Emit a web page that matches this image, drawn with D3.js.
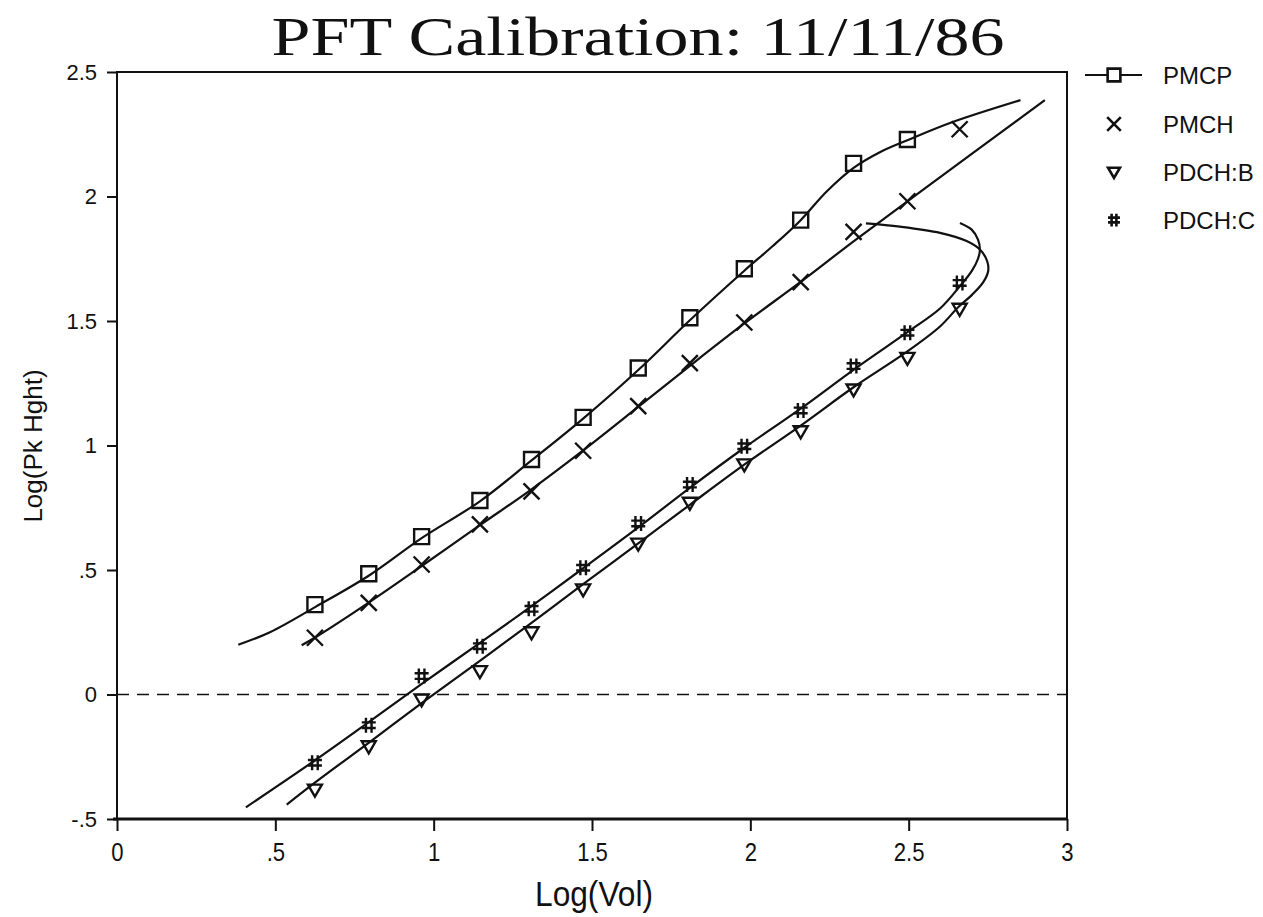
<!DOCTYPE html>
<html><head><meta charset="utf-8">
<script src="https://cdn.jsdelivr.net/npm/d3@7"></script>
<style>body{margin:0;background:#fff}</style>
</head><body><svg id="c" width="1263" height="917"></svg>
<script>
// ---- data ----
const title = "PFT Calibration: 11/11/86";
const xLabel = "Log(Vol)";
const yLabel = "Log(Pk Hght)";
const xTicks = [0, 0.5, 1, 1.5, 2, 2.5, 3];
const xTickLabels = ["0", ".5", "1", "1.5", "2", "2.5", "3"];
const yTicks = [-0.5, 0, 0.5, 1, 1.5, 2, 2.5];
const yTickLabels = ["-.5", "0", ".5", "1", "1.5", "2", "2.5"];
const seriesNames = ["PMCP", "PMCH", "PDCH:B", "PDCH:C"];

const volX  = [0.625, 0.795, 0.962, 1.146, 1.309, 1.472, 1.646, 1.809, 1.981, 2.159, 2.326, 2.496, 2.661];
const pmcp  = [0.361, 0.485, 0.634, 0.779, 0.944, 1.113, 1.311, 1.513, 1.710, 1.905, 2.133, 2.229, null];
const pmch  = [0.228, 0.368, 0.522, 0.683, 0.816, 0.979, 1.158, 1.331, 1.494, 1.656, 1.858, 1.981, 2.270];
const pdchB = [-0.382, -0.208, -0.020, 0.094, 0.250, 0.422, 0.606, 0.770, 0.924, 1.057, 1.225, 1.352, 1.549];
const pdchC = [-0.274, -0.123, 0.074, 0.194, 0.344, 0.509, 0.687, 0.843, 0.997, 1.141, 1.319, 1.453, 1.653];

// fitted curves, [logVol, logPkHght]
const pmcpFit = [[0.383,0.200],[0.483,0.250],[0.627,0.352],[0.796,0.478],[0.962,0.628],[1.146,0.776],
  [1.309,0.940],[1.472,1.108],[1.646,1.303],[1.809,1.503],[1.981,1.702],[2.070,1.800],[2.159,1.905],
  [2.241,2.020],[2.326,2.115],[2.409,2.178],[2.496,2.226],[2.641,2.300],[2.853,2.387]];
const pmchFit = [[0.583,0.198],[0.627,0.230],[0.796,0.370],[0.969,0.522],[1.146,0.680],[1.309,0.824],
  [1.472,0.980],[1.646,1.155],[1.815,1.326],[1.983,1.492],[2.162,1.660],[2.326,1.820],[2.546,2.028],[2.930,2.387]];
const pdchBFit = [[0.536,-0.442],[0.627,-0.352],[0.799,-0.190],[0.962,-0.035],[1.146,0.135],[1.309,0.288],
  [1.472,0.443],[1.646,0.607],[1.809,0.762],[1.983,0.925],[2.159,1.080],[2.327,1.235],[2.496,1.378],
  [2.599,1.478],[2.657,1.556],[2.700,1.605],[2.735,1.655],[2.751,1.700],[2.748,1.740],[2.725,1.787],
  [2.683,1.821],[2.599,1.854],[2.472,1.879],[2.365,1.892]];
const pdchCFit = [[0.407,-0.453],[0.628,-0.262],[0.796,-0.110],[0.959,0.040],[1.144,0.205],[1.309,0.355],
  [1.470,0.505],[1.645,0.670],[1.809,0.830],[1.980,0.990],[2.159,1.148],[2.327,1.305],[2.504,1.462],
  [2.599,1.550],[2.662,1.640],[2.699,1.700],[2.719,1.750],[2.725,1.787],[2.719,1.827],[2.699,1.867],[2.662,1.894]];

// ---- drawing ----
const svg = d3.select("#c");
const ink = "#111";
const sans = "'Liberation Sans', Arial, sans-serif";
const x = d3.scaleLinear().domain([0, 3]).range([117, 1067]);
const y = d3.scaleLinear().domain([-0.5, 2.5]).range([819, 72]);

// title
svg.append("text").attr("x", 638).attr("y", 55).attr("text-anchor", "middle")
  .attr("font-family", "'Liberation Serif', 'DejaVu Serif', serif").attr("font-size", 54)
  .attr("textLength", 733).attr("lengthAdjust", "spacingAndGlyphs")
  .attr("fill", ink).text(title);

// axes
const yAxis = d3.axisLeft(y).tickValues(yTicks).tickSize(10).tickPadding(10)
  .tickFormat((d, i) => yTickLabels[i]);
const gy = svg.append("g").attr("transform", `translate(${x(0)},0)`).call(yAxis);
gy.select(".domain").remove();
gy.selectAll("line").attr("stroke", ink).attr("stroke-width", 2);
gy.selectAll("text").attr("font-family", sans).attr("font-size", 22).attr("fill", ink);

const xAxis = d3.axisBottom(x).tickValues(xTicks).tickSize(12).tickPadding(12)
  .tickFormat((d, i) => xTickLabels[i]);
const gx = svg.append("g").attr("transform", `translate(0,${y(-0.5)})`).call(xAxis);
gx.select(".domain").remove();
gx.selectAll("line").attr("stroke", ink).attr("stroke-width", 2);
gx.selectAll("text").attr("font-family", sans).attr("font-size", 26).attr("fill", ink)
  .attr("transform", "scale(0.85,1)");

// frame
svg.append("rect").attr("x", x(0)).attr("y", y(2.5)).attr("width", x(3) - x(0)).attr("height", y(-0.5) - y(2.5))
  .attr("fill", "none").attr("stroke", ink).attr("stroke-width", 2);
svg.append("line").attr("x1", x(0) - 4).attr("x2", x(3)).attr("y1", y(-0.5)).attr("y2", y(-0.5))
  .attr("stroke", ink).attr("stroke-width", 3);

// zero reference
svg.append("line").attr("x1", x(0)).attr("x2", x(3)).attr("y1", y(0)).attr("y2", y(0))
  .attr("stroke", ink).attr("stroke-width", 1.6).attr("stroke-dasharray", "12,8");

// axis titles
svg.append("text").attr("transform", "translate(594,906) scale(0.88,1)").attr("text-anchor", "middle")
  .attr("font-family", sans).attr("font-size", 36)
  .attr("fill", ink).text(xLabel);
svg.append("text").attr("transform", "translate(42,446) rotate(-90)").attr("text-anchor", "middle")
  .attr("font-family", sans).attr("font-size", 26)
  .attr("fill", ink).text(yLabel);

// curves
const line = d3.line().x(d => x(d[0])).y(d => y(d[1])).curve(d3.curveCatmullRom.alpha(0.5));
[pmcpFit, pmchFit, pdchBFit, pdchCFit].forEach(c => {
  svg.append("path").attr("d", line(c)).attr("fill", "none").attr("stroke", ink).attr("stroke-width", 2.2);
});

// markers
function markerPath(type, cx, cy, k) {
  const p = d3.path();
  if (type === 0) { p.rect(cx - 7.5*k, cy - 7.5*k, 15*k, 15*k); }
  else if (type === 1) { p.moveTo(cx - 8*k, cy - 8*k); p.lineTo(cx + 8*k, cy + 8*k); p.moveTo(cx + 8*k, cy - 8*k); p.lineTo(cx - 8*k, cy + 8*k); }
  else if (type === 2) { p.moveTo(cx - 7*k, cy - 5*k); p.lineTo(cx + 7*k, cy - 5*k); p.lineTo(cx, cy + 7*k); p.closePath(); }
  else { p.moveTo(cx - 2.8*k, cy - 7.5*k); p.lineTo(cx - 2.8*k, cy + 7.5*k); p.moveTo(cx + 2.8*k, cy - 7.5*k); p.lineTo(cx + 2.8*k, cy + 7.5*k);
         p.moveTo(cx - 7*k, cy - 2.8*k); p.lineTo(cx + 7*k, cy - 2.8*k); p.moveTo(cx - 7*k, cy + 2.8*k); p.lineTo(cx + 7*k, cy + 2.8*k); }
  return p.toString();
}
[pmcp, pmch, pdchB, pdchC].forEach((vals, s) => {
  svg.append("g").selectAll("path").data(volX.map((v, i) => [v, vals[i]]).filter(d => d[1] !== null))
    .join("path").attr("d", d => markerPath(s, x(d[0]), y(d[1]), 1))
    .attr("fill", "none").attr("stroke", ink).attr("stroke-width", 2.4);
});

// legend
const legY = [75, 124, 172, 220];
svg.append("line").attr("x1", 1085).attr("x2", 1142).attr("y1", legY[0]).attr("y2", legY[0])
  .attr("stroke", ink).attr("stroke-width", 2);
seriesNames.forEach((n, s) => {
  svg.append("path").attr("d", markerPath(s, 1114, legY[s], 0.85)).attr("fill", s === 0 ? "#fff" : "none")
    .attr("stroke", ink).attr("stroke-width", 2.6);
  svg.append("text").attr("x", 1163).attr("y", legY[s]).attr("dy", "0.36em")
    .attr("font-family", sans).attr("font-size", 24)
    .attr("fill", ink).text(n);
});
</script></body></html>
